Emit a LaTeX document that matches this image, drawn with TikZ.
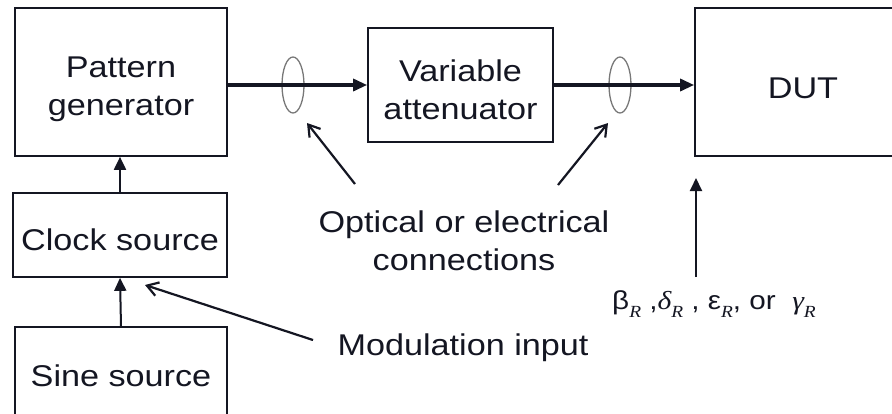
\documentclass[tikz,border=0pt]{standalone}
\usepackage{fontspec}
\setmainfont{Liberation Sans}[FakeStretch=1.14]
\newfontfamily\serifit{Liberation Serif}[FakeStretch=1.14]
\usetikzlibrary{arrows.meta,shapes.geometric}
\definecolor{diagInk}{RGB}{20,22,34}
\definecolor{diagRing}{RGB}{120,120,120}
\newcommand{\subR}{\raisebox{-0.32em}{\fontsize{17}{17}\selectfont\serifit\itshape R}}
\newcommand{\gri}[1]{{\serifit\itshape #1}}

\begin{document}
\begin{tikzpicture}[x=1pt, y=-1pt,
  % ── instrument boxes (text sits a little below centre) ──
  blk/.style={draw=diagInk, line width=1.7pt, rectangle, inner sep=0pt},
  inbox/.style={align=center, inner sep=0pt, text=diagInk,
                font=\fontsize{30}{38}\selectfont},
  % ── connection rings ──
  ring/.style={ellipse, draw=diagRing, line width=1.3pt,
               minimum width=22pt, minimum height=56pt, inner sep=0pt},
  % ── arrows ──
  sig/.style={-{Triangle[length=14pt,width=12pt]}, line width=3.2pt, diagInk},
  feed/.style={-{Triangle[length=13pt,width=12pt]}, line width=2pt, diagInk},
  call/.style={-{Straight Barb[length=11pt,width=14pt]}, line width=2.2pt, diagInk},
  % ── labels ──
  note/.style={align=center, inner sep=0pt, text=diagInk,
               font=\fontsize{30}{38}\selectfont},
]

%% ─── frame (reference is cut at bottom and right) ─────────────
\useasboundingbox (0,0) rectangle (892,413);
\clip (0,0) rectangle (892,413);

\def\my{85}    % signal line y

%% ─── 1. Left column: sine → clock → pattern ───────────────────
\node[blk, minimum width=212pt, minimum height=148pt,
      label={[inbox, yshift=-7pt]center:Pattern\\generator}] (pat) at (121,82) {};
\node[blk, minimum width=214pt, minimum height=84pt,
      label={[inbox, yshift=-5pt]center:Clock source}] (clk) at (120,235) {};
\node[blk, minimum width=212pt, minimum height=98pt,
      label={[inbox]center:Sine source}] (sine) at (121,376) {};

\draw[feed] (clk.north) -- (clk.north |- pat.south);
\draw[feed] (sine.north) -- (clk.south);

%% ─── 2. Signal path: pattern → attenuator → DUT ───────────────
\node[blk, minimum width=185pt, minimum height=114pt,
      label={[inbox, yshift=-5pt]center:Variable\\attenuator}] (att) at (460.5,\my) {};
\node[blk, minimum width=216pt, minimum height=148pt,
      label={[inbox, yshift=-6pt]center:DUT}] (dut) at (803,82) {};

\node[ring] (c1) at (293,\my) {};
\node[ring] (c2) at (620,\my) {};

\draw[sig] (pat.east |- att.west) -- (att.west);
\draw[sig] (att.east) -- (dut.west |- att.east);

%% ─── 3. Labels & call-outs ────────────────────────────────────
\node[note] (conn) at (464,241) {Optical or electrical\\connections};
\node[note] (mod)  at (463,348) {Modulation input};
\node[note, font=\fontsize{26}{30}\selectfont] (par) at (714,304)
  {β\subR\ ,\gri{δ}\subR\ , ε\subR, or \ \gri{γ}\subR};

\coordinate (o1) at (355,184);  \coordinate (t1) at (307,123);
\coordinate (o2) at (558,185);  \coordinate (t2) at (608,123);
\coordinate (m0) at (313,340);  \coordinate (mt) at (145,285);
\coordinate (p0) at (696,277);  \coordinate (pt) at (696,178);

\draw[call] (o1) -- (t1);
\draw[call] (o2) -- (t2);
\draw[call] (m0) -- (mt);
\draw[feed] (p0) -- (pt);

\end{tikzpicture}
\end{document}
